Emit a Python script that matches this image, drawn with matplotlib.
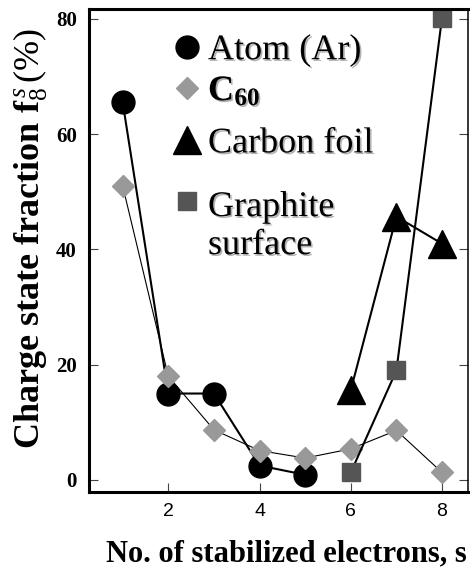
import numpy as np
from matplotlib import pyplot as plt
import matplotlib.patheffects as pe
from matplotlib.legend_handler import HandlerLine2D

plt.rcParams['mathtext.fontset'] = 'custom'
plt.rcParams['mathtext.rm'] = 'Liberation Serif'
plt.rcParams['mathtext.it'] = 'Liberation Serif:italic'
plt.rcParams['mathtext.bf'] = 'Liberation Serif:bold'

# charge state fraction (%) vs. number of stabilized electrons
s_atom = [1, 2, 3, 4, 5]
f_atom = [65.5, 15.0, 15.0, 2.5, 0.9]

s_c60 = [1, 2, 3, 4, 5, 6, 7, 8]
f_c60 = [51.0, 18.0, 8.7, 5.1, 3.8, 5.4, 8.6, 1.3]

s_foil = [6, 7, 8]
f_foil = [15.6, 45.7, 41.0]

s_graph = [6, 7, 8]
f_graph = [1.3, 19.0, 80.2]

labels = ["Atom (Ar)", r"$\mathbf{C_{60}}$", "Carbon foil", "Graphite\nsurface"]
xticks = [2, 4, 6, 8]
yticks = [0, 20, 40, 60, 80]


class RaisedHandler(HandlerLine2D):
    """Line handler that lifts the marker to the first line of a two-line label."""
    def __init__(self, dy, **kw):
        super().__init__(**kw)
        self.dy = dy

    def create_artists(self, legend, orig_handle, xdescent, ydescent,
                       width, height, fontsize, trans):
        arts = super().create_artists(legend, orig_handle, xdescent, ydescent,
                                      width, height, fontsize, trans)
        for a in arts:
            a.set_ydata(np.asarray(a.get_ydata()) + self.dy)
        return arts


fig = plt.figure(figsize=(4.72, 5.70), dpi=100)
ax = fig.add_axes([0.1896, 0.136, 0.802, 0.849])

l1, = ax.plot(s_atom, f_atom, color="black", lw=1.5, marker="o", ms=16.5,
              mfc="black", mec="black", clip_on=False)
l2, = ax.plot(s_c60, f_c60, color="black", lw=0.8, marker="D", ms=11.5,
              mfc="#999999", mec="#999999", clip_on=False)
l3, = ax.plot(s_foil, f_foil, color="black", lw=1.5, marker="^", ms=20,
              mfc="black", mec="black", clip_on=False)
l4, = ax.plot(s_graph, f_graph, color="black", lw=1.5, marker="s", ms=12.5,
              mfc="#555555", mec="#555555", clip_on=False)

ax.set_xlim(0.272, 8.57)
ax.set_ylim(-2.17, 81.8)
ax.set_xticks(xticks)
ax.set_yticks(yticks)

for side in ["left", "bottom", "top"]:
    ax.spines[side].set_linewidth(2.2)
ax.spines["right"].set_linewidth(1.1)

ax.tick_params(axis="both", direction="in", length=6.5, width=0.8, color="#444444")
ax.tick_params(axis="y", right=True, pad=9)
ax.tick_params(axis="x", pad=7.5)
for t in ax.get_yticklabels():
    t.set_fontfamily("Liberation Serif")
    t.set_fontweight("bold")
    t.set_fontsize(15)
for t in ax.get_xticklabels():
    t.set_fontfamily("Liberation Sans")
    t.set_fontsize(14)

ax.set_xlabel("No. of stabilized electrons, s", fontfamily="Liberation Serif",
              fontweight="bold", fontsize=22)
ax.set_ylabel(r"Charge state fraction f$_8^{\,s}\,(\%)$", fontfamily="Liberation Serif",
              fontweight="bold", fontsize=26)
ax.xaxis.set_label_coords(0.519, -0.098)
ax.yaxis.set_label_coords(-0.104, 0.524)

shadow = [pe.SimplePatchShadow(offset=(1.2, -1.2), shadow_rgbFace="gray", alpha=0.6),
          pe.Normal()]
leg_kw = dict(frameon=False, loc="upper left", borderaxespad=0, borderpad=0,
              handlelength=0.8, handletextpad=0.18,
              prop={"family": "Liberation Serif", "size": 26})

leg1 = ax.legend([l1, l2], labels[:2], bbox_to_anchor=(0.2195, 0.9475),
                 labelspacing=0.22, **leg_kw)
ax.add_artist(leg1)
leg2 = ax.legend([l3, l4], labels[2:], bbox_to_anchor=(0.2195, 0.755),
                 labelspacing=0.85, handler_map={l4: RaisedHandler(18)}, **leg_kw)

for leg in (leg1, leg2):
    for h in leg.legend_handles:
        h.set_linestyle("none")
    for t in leg.get_texts():
        t.set_path_effects(shadow)
        t.set_linespacing(1.2)

fig.savefig("out.png", dpi=100)
